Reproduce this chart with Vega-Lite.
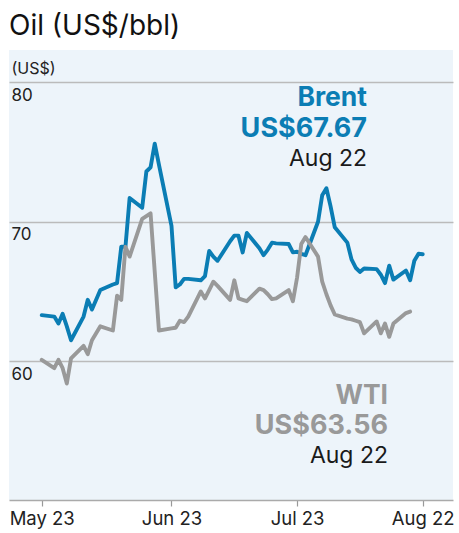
{
  "$schema": "https://vega.github.io/schema/vega-lite/v6.json",
  "width": 444,
  "height": 450,
  "autosize": {"type": "none"},
  "padding": {"left": 9, "top": 50, "right": 6, "bottom": 33},
  "background": "white",
  "config": {"view": {"fill": "#edf4fa", "stroke": null}, "font": "Inter"},
  "title": {"text": "Oil (US$/bbl)", "anchor": "start", "frame": "group", "fontSize": 28, "fontWeight": "normal", "font": "Inter", "color": "#111111", "offset": 9},
  "datasets": {
    "prices": [
      {"date": "2025-05-23", "series": "Brent", "value": 63.3},
      {"date": "2025-05-26", "series": "Brent", "value": 63.2},
      {"date": "2025-05-27", "series": "Brent", "value": 62.7},
      {"date": "2025-05-28", "series": "Brent", "value": 63.4},
      {"date": "2025-05-29", "series": "Brent", "value": 62.5},
      {"date": "2025-05-30", "series": "Brent", "value": 61.5},
      {"date": "2025-06-02", "series": "Brent", "value": 63.2},
      {"date": "2025-06-03", "series": "Brent", "value": 64.4},
      {"date": "2025-06-04", "series": "Brent", "value": 63.7},
      {"date": "2025-06-05", "series": "Brent", "value": 64.4},
      {"date": "2025-06-06", "series": "Brent", "value": 65.1},
      {"date": "2025-06-09", "series": "Brent", "value": 65.5},
      {"date": "2025-06-10", "series": "Brent", "value": 65.6},
      {"date": "2025-06-11", "series": "Brent", "value": 68.2},
      {"date": "2025-06-12", "series": "Brent", "value": 68.2},
      {"date": "2025-06-13", "series": "Brent", "value": 71.7},
      {"date": "2025-06-16", "series": "Brent", "value": 71.0},
      {"date": "2025-06-17", "series": "Brent", "value": 73.6},
      {"date": "2025-06-18", "series": "Brent", "value": 73.9},
      {"date": "2025-06-19", "series": "Brent", "value": 75.6},
      {"date": "2025-06-20", "series": "Brent", "value": 74.1},
      {"date": "2025-06-23", "series": "Brent", "value": 69.7},
      {"date": "2025-06-24", "series": "Brent", "value": 65.3},
      {"date": "2025-06-25", "series": "Brent", "value": 65.5},
      {"date": "2025-06-26", "series": "Brent", "value": 65.9},
      {"date": "2025-06-27", "series": "Brent", "value": 65.9},
      {"date": "2025-06-30", "series": "Brent", "value": 65.8},
      {"date": "2025-07-01", "series": "Brent", "value": 66.1},
      {"date": "2025-07-02", "series": "Brent", "value": 67.9},
      {"date": "2025-07-03", "series": "Brent", "value": 67.5},
      {"date": "2025-07-04", "series": "Brent", "value": 67.2},
      {"date": "2025-07-07", "series": "Brent", "value": 68.6},
      {"date": "2025-07-08", "series": "Brent", "value": 69.0},
      {"date": "2025-07-09", "series": "Brent", "value": 69.0},
      {"date": "2025-07-10", "series": "Brent", "value": 67.8},
      {"date": "2025-07-11", "series": "Brent", "value": 69.2},
      {"date": "2025-07-14", "series": "Brent", "value": 68.1},
      {"date": "2025-07-15", "series": "Brent", "value": 67.6},
      {"date": "2025-07-16", "series": "Brent", "value": 68.0},
      {"date": "2025-07-17", "series": "Brent", "value": 68.5},
      {"date": "2025-07-18", "series": "Brent", "value": 68.45},
      {"date": "2025-07-21", "series": "Brent", "value": 68.4},
      {"date": "2025-07-22", "series": "Brent", "value": 67.8},
      {"date": "2025-07-23", "series": "Brent", "value": 67.85},
      {"date": "2025-07-24", "series": "Brent", "value": 67.7},
      {"date": "2025-07-25", "series": "Brent", "value": 67.6},
      {"date": "2025-07-28", "series": "Brent", "value": 70.0},
      {"date": "2025-07-29", "series": "Brent", "value": 71.9},
      {"date": "2025-07-30", "series": "Brent", "value": 72.4},
      {"date": "2025-07-31", "series": "Brent", "value": 71.1},
      {"date": "2025-08-01", "series": "Brent", "value": 69.6},
      {"date": "2025-08-04", "series": "Brent", "value": 68.5},
      {"date": "2025-08-05", "series": "Brent", "value": 67.3},
      {"date": "2025-08-06", "series": "Brent", "value": 66.7},
      {"date": "2025-08-07", "series": "Brent", "value": 66.4},
      {"date": "2025-08-08", "series": "Brent", "value": 66.65},
      {"date": "2025-08-11", "series": "Brent", "value": 66.6},
      {"date": "2025-08-12", "series": "Brent", "value": 66.2},
      {"date": "2025-08-13", "series": "Brent", "value": 65.6},
      {"date": "2025-08-14", "series": "Brent", "value": 66.85},
      {"date": "2025-08-15", "series": "Brent", "value": 65.85},
      {"date": "2025-08-18", "series": "Brent", "value": 66.5},
      {"date": "2025-08-19", "series": "Brent", "value": 65.8},
      {"date": "2025-08-20", "series": "Brent", "value": 67.2},
      {"date": "2025-08-21", "series": "Brent", "value": 67.7},
      {"date": "2025-08-22", "series": "Brent", "value": 67.67},
      {"date": "2025-05-23", "series": "WTI", "value": 60.1},
      {"date": "2025-05-26", "series": "WTI", "value": 59.5},
      {"date": "2025-05-27", "series": "WTI", "value": 60.1},
      {"date": "2025-05-28", "series": "WTI", "value": 59.5},
      {"date": "2025-05-29", "series": "WTI", "value": 58.4},
      {"date": "2025-05-30", "series": "WTI", "value": 60.2},
      {"date": "2025-06-02", "series": "WTI", "value": 61.1},
      {"date": "2025-06-03", "series": "WTI", "value": 60.5},
      {"date": "2025-06-04", "series": "WTI", "value": 61.5},
      {"date": "2025-06-05", "series": "WTI", "value": 62.0},
      {"date": "2025-06-06", "series": "WTI", "value": 62.5},
      {"date": "2025-06-09", "series": "WTI", "value": 62.2},
      {"date": "2025-06-10", "series": "WTI", "value": 64.7},
      {"date": "2025-06-11", "series": "WTI", "value": 64.4},
      {"date": "2025-06-12", "series": "WTI", "value": 68.2},
      {"date": "2025-06-13", "series": "WTI", "value": 67.5},
      {"date": "2025-06-16", "series": "WTI", "value": 70.2},
      {"date": "2025-06-17", "series": "WTI", "value": 70.4},
      {"date": "2025-06-18", "series": "WTI", "value": 70.6},
      {"date": "2025-06-20", "series": "WTI", "value": 62.2},
      {"date": "2025-06-23", "series": "WTI", "value": 62.35},
      {"date": "2025-06-24", "series": "WTI", "value": 62.4},
      {"date": "2025-06-25", "series": "WTI", "value": 62.9},
      {"date": "2025-06-26", "series": "WTI", "value": 62.8},
      {"date": "2025-06-27", "series": "WTI", "value": 63.2},
      {"date": "2025-06-30", "series": "WTI", "value": 65.0},
      {"date": "2025-07-01", "series": "WTI", "value": 64.5},
      {"date": "2025-07-02", "series": "WTI", "value": 65.1},
      {"date": "2025-07-03", "series": "WTI", "value": 65.7},
      {"date": "2025-07-04", "series": "WTI", "value": 65.4},
      {"date": "2025-07-07", "series": "WTI", "value": 64.4},
      {"date": "2025-07-08", "series": "WTI", "value": 65.8},
      {"date": "2025-07-09", "series": "WTI", "value": 64.5},
      {"date": "2025-07-10", "series": "WTI", "value": 64.4},
      {"date": "2025-07-11", "series": "WTI", "value": 64.3},
      {"date": "2025-07-14", "series": "WTI", "value": 65.2},
      {"date": "2025-07-15", "series": "WTI", "value": 65.1},
      {"date": "2025-07-16", "series": "WTI", "value": 64.8},
      {"date": "2025-07-17", "series": "WTI", "value": 64.45},
      {"date": "2025-07-18", "series": "WTI", "value": 64.5},
      {"date": "2025-07-21", "series": "WTI", "value": 65.1},
      {"date": "2025-07-22", "series": "WTI", "value": 64.3},
      {"date": "2025-07-23", "series": "WTI", "value": 66.0},
      {"date": "2025-07-24", "series": "WTI", "value": 68.4},
      {"date": "2025-07-25", "series": "WTI", "value": 68.9},
      {"date": "2025-07-28", "series": "WTI", "value": 67.5},
      {"date": "2025-07-29", "series": "WTI", "value": 65.7},
      {"date": "2025-07-30", "series": "WTI", "value": 64.8},
      {"date": "2025-07-31", "series": "WTI", "value": 64.0},
      {"date": "2025-08-01", "series": "WTI", "value": 63.35},
      {"date": "2025-08-04", "series": "WTI", "value": 63.05},
      {"date": "2025-08-05", "series": "WTI", "value": 63.0},
      {"date": "2025-08-06", "series": "WTI", "value": 62.9},
      {"date": "2025-08-07", "series": "WTI", "value": 62.8},
      {"date": "2025-08-08", "series": "WTI", "value": 62.0},
      {"date": "2025-08-11", "series": "WTI", "value": 62.85},
      {"date": "2025-08-12", "series": "WTI", "value": 62.0},
      {"date": "2025-08-13", "series": "WTI", "value": 62.7},
      {"date": "2025-08-14", "series": "WTI", "value": 61.75},
      {"date": "2025-08-15", "series": "WTI", "value": 62.7},
      {"date": "2025-08-18", "series": "WTI", "value": 63.45},
      {"date": "2025-08-19", "series": "WTI", "value": 63.56}
    ],
    "labels": [
      {"series": "Brent", "kind": "name", "text": "Brent", "date": "2025-08-08", "value": 78.3},
      {"series": "Brent", "kind": "price", "text": "US$67.67", "date": "2025-08-08", "value": 76.07},
      {"series": "Brent", "kind": "date", "text": "Aug 22", "date": "2025-08-08", "value": 74.0},
      {"series": "WTI", "kind": "name", "text": "WTI", "date": "2025-08-13", "value": 56.95},
      {"series": "WTI", "kind": "price", "text": "US$63.56", "date": "2025-08-13", "value": 54.78},
      {"series": "WTI", "kind": "date", "text": "Aug 22", "date": "2025-08-13", "value": 52.72}
    ]
  },
  "layer": [
    {
      "data": {"name": "prices"},
      "mark": {"type": "line", "strokeWidth": 3.9, "strokeJoin": "round", "strokeCap": "round"},
      "encoding": {
        "x": {
          "field": "date", "type": "temporal",
          "scale": {"type": "utc", "nice": false, "domain": [
            {"year": 2025, "month": 5, "date": 15, "hours": 4, "minutes": 30, "utc": true},
            {"year": 2025, "month": 8, "date": 29, "hours": 5, "minutes": 45, "utc": true}
          ]},
          "axis": {
            "title": null, "grid": false,
            "values": [
              {"year": 2025, "month": 5, "date": 23, "utc": true},
              {"year": 2025, "month": 6, "date": 23, "utc": true},
              {"year": 2025, "month": 7, "date": 23, "utc": true},
              {"year": 2025, "month": 8, "date": 22, "utc": true}
            ],
            "format": "%b %d",
            "domainColor": "#aaaaaa", "domainWidth": 1.5,
            "tickColor": "#999999", "tickSize": 6, "tickWidth": 1.2,
            "labelFont": "Inter", "labelFontSize": 18.5, "labelColor": "#222222", "labelPadding": 3,
            "labelFlush": false, "labelOverlap": false
          }
        },
        "y": {
          "field": "value", "type": "quantitative",
          "scale": {"domain": [50.05, 82.31], "nice": false, "zero": false},
          "axis": {
            "values": [60, 70, 80], "grid": true, "gridColor": "#bbbbbb", "gridWidth": 1.5,
            "domain": false, "ticks": false, "tickSize": 0,
            "labelAlign": "left", "labelBaseline": "top", "labelPadding": -2, "labelOffset": 5,
            "labelFont": "Inter", "labelFontSize": 17, "labelColor": "#222222",
            "title": "(US$)", "titleAngle": 0, "titleAlign": "left", "titleBaseline": "middle",
            "titleX": 2, "titleY": 18.5, "titleFont": "Inter", "titleFontSize": 16, "titleFontWeight": "normal", "titleColor": "#222222"
          }
        },
        "color": {
          "field": "series", "type": "nominal",
          "scale": {"domain": ["Brent", "WTI"], "range": ["#0b7db4", "#999999"]},
          "legend": null
        }
      }
    },
    {
      "data": {"name": "labels"},
      "transform": [{"filter": "datum.kind !== 'date'"}],
      "mark": {"type": "text", "align": "right", "baseline": "alphabetic", "fontWeight": "bold", "font": "Inter", "dx": 3},
      "encoding": {
        "x": {"field": "date", "type": "temporal"},
        "y": {"field": "value", "type": "quantitative"},
        "text": {"field": "text"},
        "size": {"condition": {"test": "datum.kind === 'price'", "value": 27}, "value": 26.5},
        "color": {"field": "series", "type": "nominal", "legend": null}
      }
    },
    {
      "data": {"name": "labels"},
      "transform": [{"filter": "datum.kind === 'date'"}],
      "mark": {"type": "text", "align": "right", "baseline": "alphabetic", "fontWeight": "normal", "fontSize": 23, "font": "Inter", "dx": 3, "color": "#1a1a1a"},
      "encoding": {
        "x": {"field": "date", "type": "temporal"},
        "y": {"field": "value", "type": "quantitative"},
        "text": {"field": "text"}
      }
    }
  ]
}
